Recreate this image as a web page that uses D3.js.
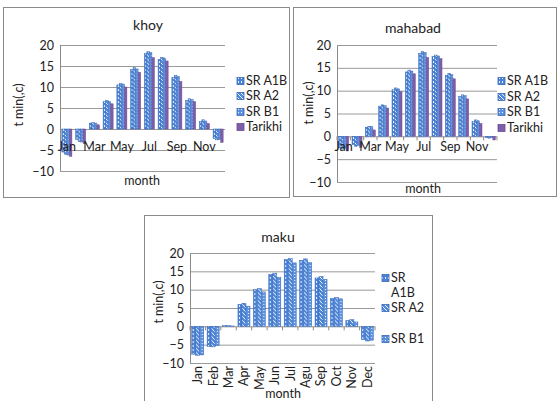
<!DOCTYPE html>
<html>
<head>
<meta charset="utf-8">
<script src="https://cdn.jsdelivr.net/npm/d3@7"></script>
<style>
  body { margin: 0; background: #fff; }
  text { font-family: Lato, "Open Sans", sans-serif; fill: #222; }
</style>
</head>
<body>
<svg id="chart" width="558" height="401"></svg>
<script>
// data
const months = ["Jan", "Feb", "Mar", "Apr", "May", "Jun", "Jul", "Aug", "Sep", "Oct", "Nov", "Dec"];
const monthsEveryOther = ["Jan", "", "Mar", "", "May", "", "Jul", "", "Sep", "", "Nov", ""];
const makuMonths = ["Jan", "Feb", "Mar", "Apr", "May", "Jun", "Jul", "Agu", "Sep", "Oct", "Nov", "Dec"];
const yTicks = [-10, -5, 0, 5, 10, 15, 20];

const series4 = ["SR A1B", "SR A2", "SR B1", "Tarikhi"];
const series3 = ["SR A1B", "SR A2", "SR B1"];

const khoyA1B = [-5.5, -2.5, 1.4, 6.5, 10.5, 14.2, 18.0, 16.6, 12.3, 6.8, 1.8, -2.3];
const khoyA2 = [-6.0, -3.0, 1.5, 6.8, 10.9, 14.6, 18.4, 17.0, 12.8, 7.2, 2.2, -2.6];
const khoyB1 = [-6.2, -3.1, 1.4, 6.5, 10.7, 14.3, 18.2, 16.9, 12.5, 7.0, 1.9, -2.5];
const khoyTarikhi = [-6.5, -3.5, 1.0, 6.0, 10.0, 13.5, 17.0, 16.2, 11.3, 6.5, 1.3, -3.2];

const mahabadA1B = [-2.5, -1.8, 2.0, 6.6, 10.2, 14.1, 18.2, 17.5, 13.3, 8.7, 3.2, -0.3];
const mahabadA2 = [-2.8, -2.2, 2.2, 6.9, 10.6, 14.5, 18.6, 17.8, 13.8, 9.1, 3.6, -0.4];
const mahabadB1 = [-2.6, -2.0, 2.1, 6.7, 10.4, 14.3, 18.4, 17.6, 13.5, 8.9, 3.4, -0.3];
const mahabadTarikhi = [-3.2, -2.4, 1.4, 6.2, 9.8, 13.7, 17.3, 17.0, 12.6, 8.2, 2.8, -0.8];

const makuA1B = [-7.6, -5.5, 0.2, 6.0, 10.0, 14.2, 18.2, 18.0, 13.2, 7.6, 1.6, -3.6];
const makuA2 = [-7.9, -5.6, 0.2, 6.3, 10.3, 14.5, 18.5, 18.4, 13.6, 7.9, 1.8, -4.0];
const makuB1 = [-7.8, -5.2, 0.1, 5.5, 9.4, 13.4, 17.3, 17.4, 12.8, 7.5, 1.2, -3.8];

const svg = d3.select("#chart");

// fill patterns for the scenario series
let defs = svg.append("defs");
function makePattern(id, w, h, bg, draw) {
    let p = defs.append("pattern").attr("id", id)
        .attr("patternUnits", "userSpaceOnUse").attr("width", w).attr("height", h);
    p.append("rect").attr("width", w).attr("height", h).attr("fill", bg);
    draw(p);
}
makePattern("pA1B", 3, 4, "#4b82d6", function (p) {
    p.append("rect").attr("x", 1).attr("y", 1).attr("width", 1).attr("height", 2).attr("fill", "#e6effc");
});
makePattern("pA2", 4, 4, "#5089d9", function (p) {
    p.append("path").attr("d", "M0,0 L4,4").attr("stroke", "#eef4fd").attr("stroke-width", 1);
});
makePattern("pB1", 3, 3, "#5d91de", function (p) {
    p.append("rect").attr("x", 1).attr("y", 1).attr("width", 1).attr("height", 1).attr("fill", "#f3f7fe");
});
const fills = { "SR A1B": "url(#pA1B)", "SR A2": "url(#pA2)", "SR B1": "url(#pB1)", "Tarikhi": "#7d5fa9" };
const strokes = { "SR A1B": "#3566b8", "SR A2": "#3566b8", "SR B1": "#3566b8", "Tarikhi": "#6a4c96" };

function drawPanel(cfg) {
    let g = svg.append("g");

    // frame
    g.append("rect")
        .attr("x", cfg.box[0] + 0.5).attr("y", cfg.box[1] + 0.5)
        .attr("width", cfg.box[2] - cfg.box[0]).attr("height", cfg.box[3] - cfg.box[1])
        .attr("fill", "#fff").attr("stroke", "#8a8a8a");

    let left = cfg.plot[0], top = cfg.plot[1], right = cfg.plot[2], bottom = cfg.plot[3];

    let yScale = d3.scaleLinear().domain([-10, 20]).range([bottom, top]);
    let xScale = d3.scaleBand().domain(d3.range(12)).range([left, right])
        .paddingInner(cfg.gap).paddingOuter(cfg.gap / 2);
    let x1 = d3.scaleBand().domain(cfg.series).range([0, xScale.bandwidth()]);

    // gridlines
    g.append("g")
        .attr("transform", "translate(" + left + ",0)")
        .call(d3.axisLeft(yScale).tickValues(yTicks).tickSize(-(right - left)).tickFormat(""))
        .call(function (a) { a.select(".domain").remove(); })
        .selectAll("line").attr("stroke", "#9a9a9a");

    // y labels
    g.append("g")
        .attr("transform", "translate(" + (left - 6) + ",0)")
        .call(d3.axisLeft(yScale).tickValues(yTicks).tickSize(0).tickPadding(0))
        .call(function (a) { a.select(".domain").remove(); })
        .selectAll("text").style("font-size", "12.5px").attr("fill", "#222");

    g.append("line")
        .attr("x1", left + 0.5).attr("x2", left + 0.5)
        .attr("y1", top).attr("y2", bottom)
        .attr("stroke", "#8a8a8a");

    // bars
    let groups = g.append("g").selectAll("g")
        .data(d3.range(12)).enter().append("g")
        .attr("transform", function (i) { return "translate(" + xScale(i) + ",0)"; });

    groups.selectAll("rect")
        .data(function (i) {
            return cfg.series.map(function (s, k) { return { s: s, v: cfg.values[k][i] }; });
        })
        .enter().append("rect")
        .attr("x", function (d) { return x1(d.s); })
        .attr("y", function (d) { return yScale(Math.max(0, d.v)); })
        .attr("width", x1.bandwidth())
        .attr("height", function (d) { return Math.abs(yScale(d.v) - yScale(0)); })
        .attr("fill", function (d) { return fills[d.s]; })
        .attr("stroke", function (d) { return strokes[d.s]; })
        .attr("stroke-width", 0.5);

    // small category ticks on the zero line
    if (cfg.zeroTicks) {
        g.append("g").selectAll("line")
            .data(d3.range(13)).enter().append("line")
            .attr("x1", function (i) { return left + i * xScale.step(); })
            .attr("x2", function (i) { return left + i * xScale.step(); })
            .attr("y1", yScale(0)).attr("y2", yScale(0) + 4)
            .attr("stroke", "#9a8a70");
    }

    // month labels
    let xAxis = d3.axisBottom(xScale).tickSize(0).tickPadding(0)
        .tickFormat(function (i) { return cfg.labels[i]; });
    let xg = g.append("g")
        .attr("transform", "translate(0," + cfg.labelY + ")")
        .call(xAxis);
    xg.select(".domain").remove();
    let xt = xg.selectAll("text").style("font-size", "12.5px").attr("fill", "#222");
    if (cfg.rotate) {
        xt.attr("transform", "rotate(-90)")
            .attr("text-anchor", "end")
            .attr("x", -3).attr("y", 0).attr("dy", "0.35em");
    } else {
        xt.attr("y", 0).attr("dy", "0.35em");
    }

    // titles
    g.append("text").attr("x", cfg.titleXY[0]).attr("y", cfg.titleXY[1])
        .attr("text-anchor", "middle").attr("dy", "0.35em")
        .style("font-size", "14px").text(cfg.title);

    g.append("text")
        .attr("transform", "translate(" + cfg.yTitleXY[0] + "," + cfg.yTitleXY[1] + ") rotate(-90)")
        .attr("text-anchor", "middle").attr("dy", "0.35em")
        .style("font-size", "12.5px").text("t min(,c)");

    g.append("text").attr("x", cfg.monthXY[0]).attr("y", cfg.monthXY[1])
        .attr("text-anchor", "middle").attr("dy", "0.35em")
        .style("font-size", "12.5px").text("month");

    // legend
    cfg.legend.forEach(function (item, k) {
        let s = cfg.series[k];
        g.append("rect")
            .attr("x", cfg.legendX).attr("y", item.y - 3.5)
            .attr("width", 7).attr("height", 7)
            .attr("fill", fills[s]).attr("stroke", strokes[s]).attr("stroke-width", 0.8);
        item.lines.forEach(function (line, j) {
            g.append("text")
                .attr("x", cfg.legendX + 9).attr("y", item.y + j * 15)
                .attr("dy", "0.35em").style("font-size", "12.5px").text(line);
        });
    });
}

drawPanel({
    box: [3, 7, 289, 197],
    plot: [60, 45, 225, 171],
    gap: 0.27,
    series: series4,
    values: [khoyA1B, khoyA2, khoyB1, khoyTarikhi],
    labels: monthsEveryOther,
    labelY: 147,
    rotate: false,
    zeroTicks: false,
    title: "khoy",
    titleXY: [148, 25],
    yTitleXY: [19, 105],
    monthXY: [142, 181],
    legendX: 237,
    legend: [
        { y: 81, lines: ["SR A1B"] },
        { y: 96, lines: ["SR A2"] },
        { y: 112, lines: ["SR B1"] },
        { y: 127, lines: ["Tarikhi"] }
    ]
});

drawPanel({
    box: [293, 7, 556, 196],
    plot: [337, 45, 497, 182],
    gap: 0.25,
    series: series4,
    values: [mahabadA1B, mahabadA2, mahabadB1, mahabadTarikhi],
    labels: monthsEveryOther,
    labelY: 147,
    rotate: false,
    zeroTicks: true,
    title: "mahabad",
    titleXY: [413, 28],
    yTitleXY: [309, 103],
    monthXY: [423, 189],
    legendX: 498,
    legend: [
        { y: 81, lines: ["SR A1B"] },
        { y: 97, lines: ["SR A2"] },
        { y: 112, lines: ["SR B1"] },
        { y: 128, lines: ["Tarikhi"] }
    ]
});

drawPanel({
    box: [144, 215, 432, 402],
    plot: [190, 253, 375, 363],
    gap: 0.22,
    series: series3,
    values: [makuA1B, makuA2, makuB1],
    labels: makuMonths,
    labelY: 363,
    rotate: true,
    zeroTicks: true,
    title: "maku",
    titleXY: [278, 237],
    yTitleXY: [159, 302],
    monthXY: [283, 394],
    legendX: 382,
    legend: [
        { y: 278, lines: ["SR", "A1B"] },
        { y: 308, lines: ["SR A2"] },
        { y: 339, lines: ["SR B1"] }
    ]
});
</script>
</body>
</html>
